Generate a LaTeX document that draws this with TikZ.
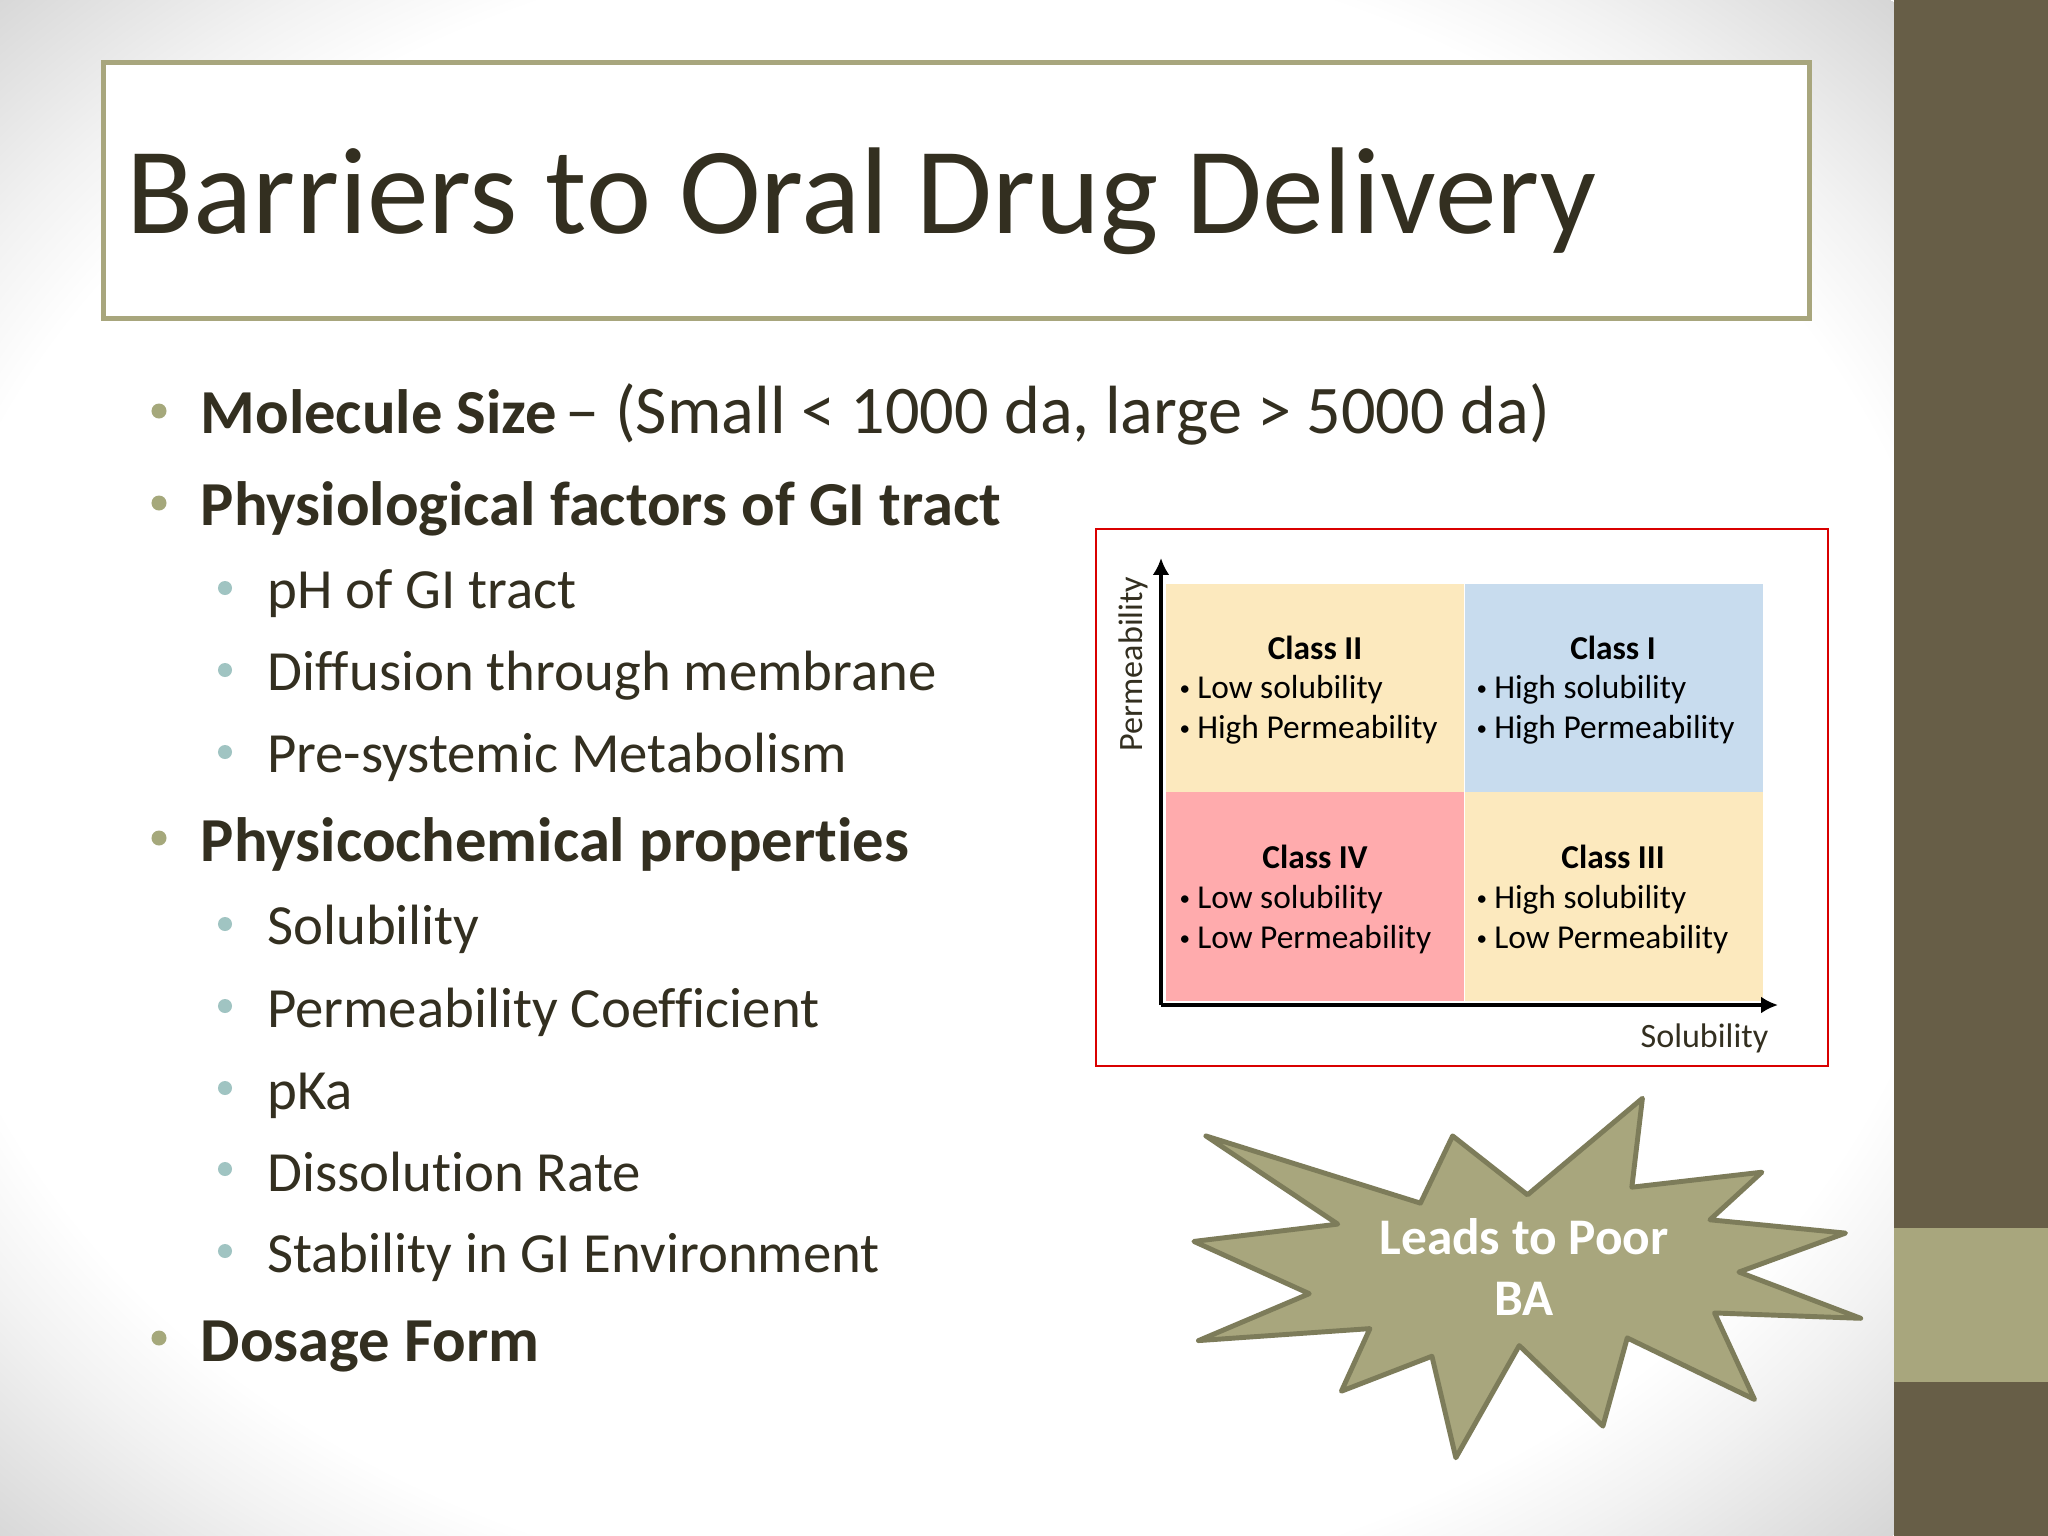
\documentclass[tikz,border=0pt]{standalone}
\usepackage{fontspec}
\setmainfont{Carlito}[Ligatures=CommonOff]
\usetikzlibrary{arrows.meta}
\definecolor{inkc}{HTML}{332F20}
\definecolor{olive}{HTML}{A8A67D}
\definecolor{oliveedge}{HTML}{7D7C5A}
\definecolor{band}{HTML}{675E47}
\definecolor{bulletone}{HTML}{A5A87B}
\definecolor{bullettwo}{HTML}{A0C4C2}
\definecolor{cyellow}{HTML}{FCE9BE}
\definecolor{cblue}{HTML}{C8DCEE}
\definecolor{cred}{HTML}{FFABAD}
\pgfdeclareradialshading{slidebg}{\pgfpoint{0bp}{0bp}}{color(0bp)=(white); color(54bp)=(white); color(60bp)=(white!95!black); color(71bp)=(white!84!black)}
\newcommand{\fs}[1]{\fontsize{#1}{#1}\selectfont}
\newcommand{\cb}{\raisebox{0.6pt}{\fs{6}\textbullet}\hspace{2pt}}
\tikzset{
  px/.style={x=0.01cm,y=-0.01cm},
  lone/.style={anchor=base west,inner sep=0pt,text=inkc,font=\fs{17.8}\bfseries},
  ltwo/.style={anchor=base west,inner sep=0pt,text=inkc,font=\fs{16.15}},
  bone/.style={circle,fill=bulletone,inner sep=0pt,minimum size=0.15cm},
  btwo/.style={circle,fill=bullettwo,inner sep=0pt,minimum size=0.14cm},
  cell/.style={draw=none,inner sep=0pt,minimum width=2.985cm},
  ctitle/.style={anchor=base,inner sep=0pt,text=black,font=\fs{9.5}\bfseries},
  cline/.style={anchor=base west,inner sep=0pt,text=black,font=\fs{9.5}},
  axis/.style={draw=black,line width=1.4pt,-{Latex[length=4.8pt,width=4.8pt]}},
}
\begin{document}
\begin{tikzpicture}[px]
\useasboundingbox (0,0) rectangle (2048,1536);
\begin{scope}
\clip (0,0) rectangle (1894,1536);
\pgftransformshift{\pgfpointxy{935}{768}}
\pgftransformcm{5.369}{0}{0}{4.354}{\pgfpointorigin}
\pgflowlevelsynccm
\pgfuseshading{slidebg}
\end{scope}
\fill[band] (1894,0) rectangle (2048,1536);
\fill[olive] (1894,1228) rectangle (2048,1382);
% title
\node[draw=olive,line width=1.45pt,fill=white,minimum width=17.05cm,minimum height=2.56cm,anchor=north west,inner sep=0pt] (titlebox) at (101,60) {};
\node[anchor=base west,inner sep=0pt,text=inkc,font=\fs{35.1}] (title) at (126,233) {Barriers to Oral Drug Delivery};
% list
\node[lone] (a1) at (200,433) {Molecule Size\hspace{-1.5pt} \textmd{\fs{19.4}– (Small < 1000 da, large > 5000 da)}};
\node[lone] (a2) at (200,525) {Physiological factors of GI tract};
\node[ltwo] (b1) at (266.5,608) {pH of GI tract};
\node[ltwo] (b2) at (266.5,690) {Diffusion through membrane};
\node[ltwo] (b3) at (266.5,772) {Pre-systemic Metabolism};
\node[lone] (a3) at (200,861) {Physicochemical properties};
\node[ltwo] (b4) at (266.5,944) {Solubility};
\node[ltwo] (b5) at (266.5,1027) {Permeability Coefficient};
\node[ltwo] (b6) at (266.5,1109) {pKa};
\node[ltwo] (b7) at (266.5,1191) {Dissolution Rate};
\node[ltwo] (b8) at (266.5,1272) {Stability in GI Environment};
\node[lone] (a4) at (200,1361) {Dosage Form};
\node[bone] (ba1) at (159,411) {};
\node[bone] (ba2) at (159,503) {};
\node[btwo] (bb1) at (225,588) {};
\node[btwo] (bb2) at (225,670) {};
\node[btwo] (bb3) at (225,752) {};
\node[bone] (ba3) at (159,838) {};
\node[btwo] (bb4) at (225,924) {};
\node[btwo] (bb5) at (225,1006) {};
\node[btwo] (bb6) at (225,1088) {};
\node[btwo] (bb7) at (225,1169) {};
\node[btwo] (bb8) at (225,1251) {};
\node[bone] (ba4) at (159,1338) {};
% figure
\node[draw=red!85!black,line width=0.55pt,fill=white,minimum width=7.32cm,minimum height=5.37cm,anchor=north west,inner sep=0pt] (frame) at (1095,528) {};
\node[cell,fill=cyellow,minimum height=2.07cm] (c2) at (1315,688) {};
\node[cell,fill=cblue,minimum height=2.07cm] (c1) at (1614,688) {};
\node[cell,fill=cred,minimum height=2.09cm] (c4) at (1315,896.5) {};
\node[cell,fill=cyellow,minimum height=2.09cm] (c3) at (1614,896.5) {};
\coordinate (origin) at (1161,1005);
\coordinate (ytip) at (1161,558);
\coordinate (xtip) at (1778,1005);
\draw[axis] (origin) -- (ytip);
\draw[axis] (origin) -- (xtip);
\node[anchor=base,inner sep=0pt,text=inkc,font=\fs{9.7},rotate=90] (ylab) at (1142,664) {Permeability};
\node[anchor=base east,inner sep=0pt,text=inkc,font=\fs{9.7}] (xlab) at (1769,1047) {Solubility};
\node[ctitle] (t2) at (1315,659) {Class II};
\node[cline] (l2a) at (1179,698) {\cb Low solubility};
\node[cline] (l2b) at (1179,738) {\cb High Permeability};
\node[ctitle] (t1) at (1613,659) {Class I};
\node[cline] (l1a) at (1476,698) {\cb High solubility};
\node[cline] (l1b) at (1476,738) {\cb High Permeability};
\node[ctitle] (t4) at (1315,868) {Class IV};
\node[cline] (l4a) at (1179,908) {\cb Low solubility};
\node[cline] (l4b) at (1179,948) {\cb Low Permeability};
\node[ctitle] (t3) at (1613,868) {Class III};
\node[cline] (l3a) at (1476,908) {\cb High solubility};
\node[cline] (l3b) at (1476,948) {\cb Low Permeability};
% star
\begin{scope}[shift={(1170,1080)},x=0.004591cm,y=-0.003333cm]
\draw[fill=olive,draw=oliveedge,line width=1.4pt,line join=round]
 (78,168)--(545,370)--(615,168)--(778,345)--(1028,55)--(1005,322)--(1288,277)--(1175,420)--(1470,460)--(1238,577)--(1503,716)--(1185,700)--(1272,960)--(995,775)--(942,1040)--(760,798)--(622,1135)--(570,830)--(373,935)--(435,747)--(62,783)--(303,642)--(52,485)--(365,433)--cycle;
\end{scope}
\node[anchor=base,inner sep=0pt,text=white,font=\fs{14.6}\bfseries] (s1) at (1524,1254) {Leads to Poor};
\node[anchor=base,inner sep=0pt,text=white,font=\fs{14.6}\bfseries] (s2) at (1524,1315) {BA};
\end{tikzpicture}
\end{document}
